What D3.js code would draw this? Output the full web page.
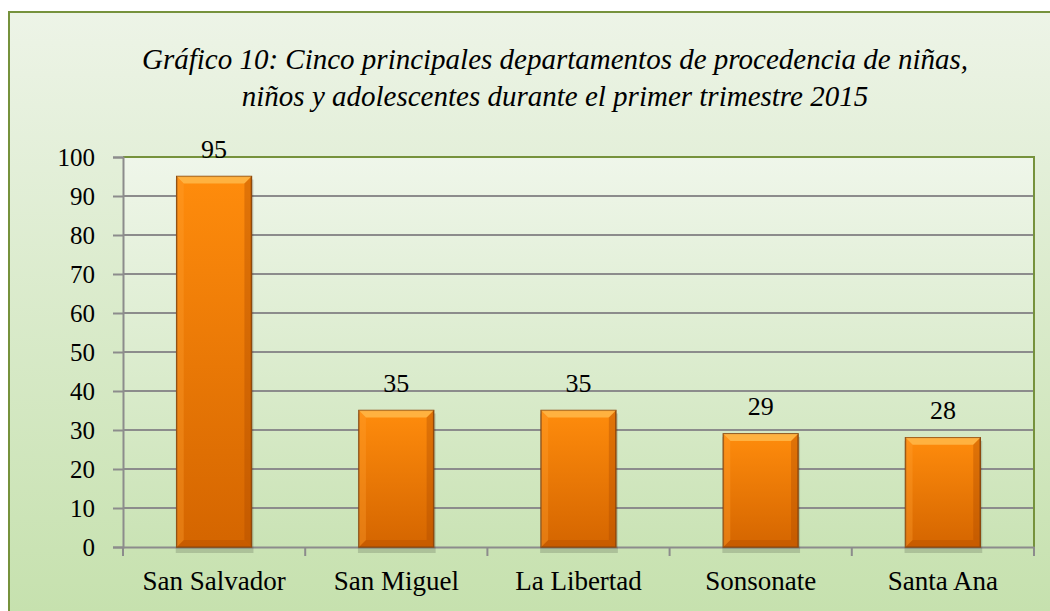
<!DOCTYPE html>
<html>
<head>
<meta charset="utf-8">
<script src="https://cdn.jsdelivr.net/npm/d3@7"></script>
</head>
<body style="margin:0;overflow:hidden">
<div class="chart"></div>
<script>
// data
var departamentos = ["San Salvador", "San Miguel", "La Libertad", "Sonsonate", "Santa Ana"];
var casos = [95, 35, 35, 29, 28];
var yTicks = [0, 10, 20, 30, 40, 50, 60, 70, 80, 90, 100];
var titulo = ["Gráfico 10: Cinco principales departamentos de procedencia de niñas,",
              "niños y adolescentes durante el primer trimestre 2015"];

const W = 1050, H = 611;
const margin = {top: 157, right: 16, bottom: 64, left: 123};
const width = W - margin.left - margin.right,
      height = H - margin.top - margin.bottom;

var svg = d3.select(".chart")
    .append("svg")
    .attr("width", W)
    .attr("height", H)
    .attr("font-family", "Liberation Serif")
    .style("display", "block");

var defs = svg.append("defs");

var bgGrad = defs.append("linearGradient")
    .attr("id", "bg").attr("x1", 0).attr("y1", 0).attr("x2", 0).attr("y2", 1);
bgGrad.append("stop").attr("offset", "0%").attr("stop-color", "#edf4e7");
bgGrad.append("stop").attr("offset", "100%").attr("stop-color", "#c6e1ae");

var plotGrad = defs.append("linearGradient")
    .attr("id", "plotbg").attr("x1", 0).attr("y1", 0).attr("x2", 0).attr("y2", 1);
plotGrad.append("stop").attr("offset", "0%").attr("stop-color", "#eff6ea");
plotGrad.append("stop").attr("offset", "100%").attr("stop-color", "#cae3b5");

var barGrad = defs.append("linearGradient")
    .attr("id", "bar").attr("x1", 0).attr("y1", 0).attr("x2", 0).attr("y2", 1);
barGrad.append("stop").attr("offset", "0%").attr("stop-color", "#ff8c0c");
barGrad.append("stop").attr("offset", "100%").attr("stop-color", "#d46500");

// chart area
svg.append("rect")
    .attr("x", 9).attr("y", 12)
    .attr("width", W - 8).attr("height", H - 11)
    .attr("fill", "url(#bg)")
    .attr("stroke", "#76923c")
    .attr("stroke-width", 2);

var chartTitle = svg.append("text")
    .attr("text-anchor", "middle")
    .attr("font-family", "Liberation Serif")
    .attr("font-style", "italic")
    .attr("font-size", 29)
    .attr("fill", "#000");
chartTitle.selectAll("tspan")
    .data(titulo)
    .enter()
    .append("tspan")
    .attr("x", 555)
    .attr("y", (d, i) => 69 + i * 37)
    .text(d => d);

var g = svg.append("g")
    .attr("transform", "translate(" + margin.left + "," + margin.top + ")");

const xScale = d3.scaleBand()
    .domain(departamentos)
    .range([0, width])
    .paddingInner(0.59)
    .paddingOuter(0.295);

const yScale = d3.scaleLinear()
    .domain([0, 100])
    .range([height, 0]);

g.append("rect")
    .attr("width", width).attr("height", height)
    .attr("fill", "url(#plotbg)");

// gridlines
g.selectAll(".grid")
    .data(yTicks.filter(d => d > 0 && d < 100))
    .enter()
    .append("line")
    .attr("x1", 0).attr("x2", width)
    .attr("y1", d => yScale(d)).attr("y2", d => yScale(d))
    .attr("stroke", "#8c8c8c")
    .attr("stroke-width", 2);

// plot border, top and right
g.append("path")
    .attr("d", "M0," + yScale(100) + "H" + width + "V" + height)
    .attr("fill", "none")
    .attr("stroke", "#76923c")
    .attr("stroke-width", 2);

// axes
const yAxis = d3.axisLeft(yScale)
    .tickValues(yTicks)
    .tickSize(10)
    .tickPadding(18);

var yAxisDisplay = g.append("g")
    .attr("class", "axis y-axis")
    .call(yAxis);

const xAxis = d3.axisBottom(xScale).tickSize(0).tickPadding(29);

var xAxisDisplay = g.append("g")
    .attr("class", "axis x-axis")
    .attr("transform", `translate(0, ${height})`)
    .call(xAxis);

var step = xScale.step();
g.selectAll(".xtick")
    .data(d3.range(departamentos.length + 1))
    .enter()
    .append("line")
    .attr("x1", i => i * step).attr("x2", i => i * step)
    .attr("y1", height).attr("y2", height + 9)
    .attr("stroke", "#8c8c8c")
    .attr("stroke-width", 2);

svg.selectAll(".axis").attr("font-family", "Liberation Serif");
svg.selectAll(".axis .domain").attr("stroke", "#8c8c8c").attr("stroke-width", 2);
svg.selectAll(".y-axis .tick line").attr("stroke", "#8c8c8c").attr("stroke-width", 2);
svg.selectAll(".axis text")
    .attr("font-family", "Liberation Serif")
    .attr("fill", "#000");
svg.selectAll(".y-axis").attr("font-size", 25);
svg.selectAll(".x-axis").attr("font-size", 27);
svg.selectAll(".x-axis text").attr("dy", "0.5em");

// bars
var bars = g.selectAll(".bar")
    .data(casos)
    .enter()
    .append("g")
    .attr("class", "bar");

// soft shadow under each bar
bars.append("rect")
    .attr("x", (d, i) => xScale(departamentos[i]) - 1)
    .attr("y", d => yScale(d) + 3)
    .attr("width", xScale.bandwidth() + 3)
    .attr("height", d => height - yScale(d) + 3)
    .attr("fill", "#000")
    .attr("opacity", 0.15);

bars.append("rect")
    .attr("x", (d, i) => xScale(departamentos[i]))
    .attr("y", d => yScale(d))
    .attr("width", xScale.bandwidth())
    .attr("height", d => height - yScale(d))
    .attr("fill", "url(#bar)")
    .attr("stroke", "#8a4a10")
    .attr("stroke-width", 1.5);

// bevel highlight on the top
const bev = 7;
bars.append("path")
    .attr("d", (d, i) => {
        var x0 = xScale(departamentos[i]), x1 = x0 + xScale.bandwidth(), y0 = yScale(d);
        return "M" + x0 + "," + y0 + "H" + x1 + "L" + (x1 - bev) + "," + (y0 + bev) +
               "H" + (x0 + bev) + "Z";
    })
    .attr("fill", "#ffb84a")
    .attr("opacity", 0.85);

// darker bevel at the bottom and sides
bars.append("path")
    .attr("d", (d, i) => {
        var x0 = xScale(departamentos[i]), x1 = x0 + xScale.bandwidth(), y1 = height;
        return "M" + x0 + "," + y1 + "H" + x1 + "L" + (x1 - bev) + "," + (y1 - bev) +
               "H" + (x0 + bev) + "Z";
    })
    .attr("fill", "#b85000")
    .attr("opacity", 0.45);

bars.append("path")
    .attr("d", (d, i) => {
        var x0 = xScale(departamentos[i]), x1 = x0 + xScale.bandwidth(), y0 = yScale(d);
        return "M" + x1 + "," + y0 + "V" + height + "L" + (x1 - bev) + "," + (height - bev) +
               "V" + (y0 + bev) + "Z";
    })
    .attr("fill", "#a84800")
    .attr("opacity", 0.35);

bars.append("path")
    .attr("d", (d, i) => {
        var x0 = xScale(departamentos[i]), y0 = yScale(d);
        return "M" + x0 + "," + y0 + "V" + height + "L" + (x0 + bev) + "," + (height - bev) +
               "V" + (y0 + bev) + "Z";
    })
    .attr("fill", "#ffa030")
    .attr("opacity", 0.35);

// value labels
bars.append("text")
    .text(d => d)
    .attr("x", (d, i) => xScale(departamentos[i]) + xScale.bandwidth() / 2)
    .attr("y", d => yScale(d) - 19)
    .attr("text-anchor", "middle")
    .attr("font-family", "Liberation Serif")
    .attr("font-size", 26)
    .attr("fill", "#000");
</script>
</body>
</html>
